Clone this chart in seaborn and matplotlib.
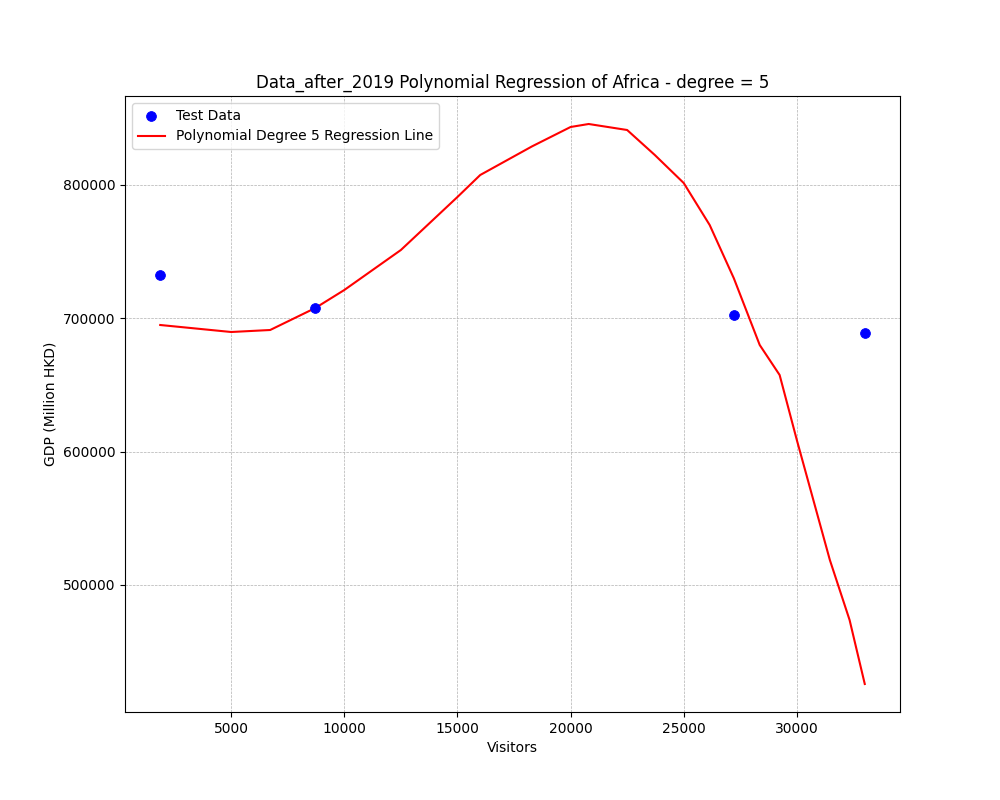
import seaborn as sns
import pandas as pd
import numpy as np
import matplotlib
matplotlib.use("Agg")
import matplotlib.pyplot as plt

test_x = [1864, 8719, 27217, 33003]
test_y = [732500, 707750, 702500, 689000]

curve_x = [1864, 5000, 6723, 8719, 10000, 12500, 15000, 16007, 18300, 20000, 20800,
           22500, 23723, 25000, 26148, 27217, 28360, 29240, 30000, 31460, 32332, 33003]
curve_y = [695000, 689750, 691250, 707750, 721250, 751250, 791000, 807500, 829000, 843500, 845750,
           841250, 822500, 801500, 770000, 730000, 680000, 657500, 608750, 518750, 473750, 425750]

test_df = pd.DataFrame({"Visitors": test_x, "GDP": test_y})
curve_df = pd.DataFrame({"Visitors": curve_x, "GDP": curve_y})

fig, ax = plt.subplots(figsize=(10, 8))
sns.scatterplot(data=test_df, x="Visitors", y="GDP", color="blue", s=50, edgecolor="blue",
                label="Test Data", ax=ax, zorder=3)
sns.lineplot(data=curve_df, x="Visitors", y="GDP", color="red", label="Polynomial Degree 5 Regression Line",
             ax=ax, estimator=None, sort=True)
ax.set_title("Data_after_2019 Polynomial Regression of Africa - degree = 5")
ax.set_xlabel("Visitors")
ax.set_ylabel("GDP (Million HKD)")
ax.grid(True, linestyle="--", linewidth=0.5)
ax.legend(loc="upper left")
fig.savefig("out.png", dpi=100)
